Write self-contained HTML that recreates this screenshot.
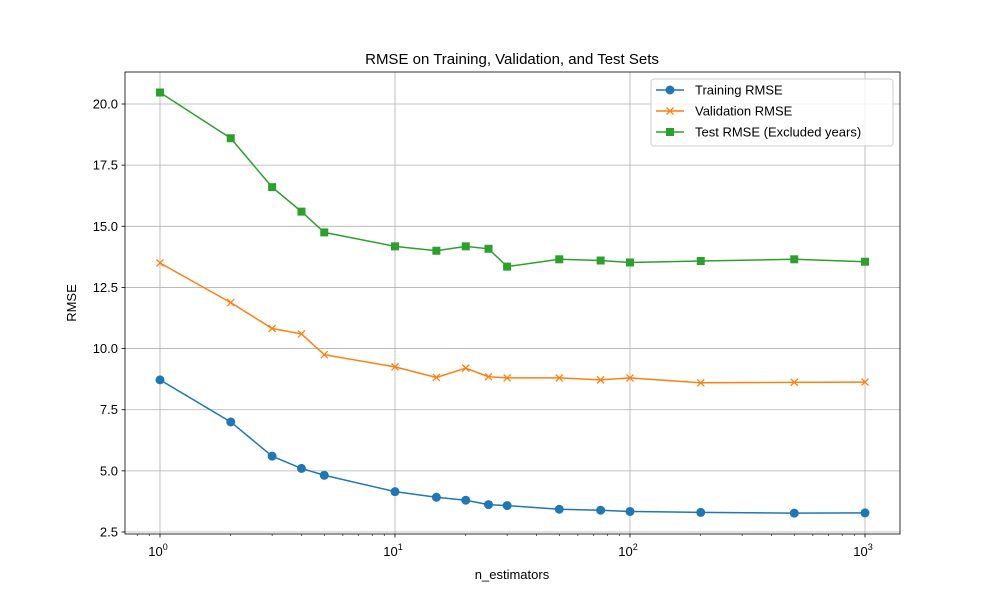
<!DOCTYPE html>
<html><head><meta charset="utf-8"><style>
body{margin:0;background:#fff}
svg{font-family:"Liberation Sans","DejaVu Sans",sans-serif}
</style></head><body>
<svg id="chart" width="1000" height="600">
<rect width="1000" height="600" fill="#fff"/>
<text x="512" y="64" text-anchor="middle" font-size="15">RMSE on Training, Validation, and Test Sets</text>
<g id="grid"></g><g id="axes"></g><g id="series"></g>
<rect x="125" y="72" width="775" height="462" fill="none" stroke="#000" stroke-width="0.8"/>
<text x="512" y="579" text-anchor="middle" font-size="13">n_estimators</text>
<text transform="translate(76,303) rotate(-90)" text-anchor="middle" font-size="13">RMSE</text>
<g id="legend">
<rect x="651" y="79" width="242" height="67" rx="3" fill="#fff" fill-opacity="0.8" stroke="#ccc"/>
</g>
</svg>
<script>
const xs=[1,2,3,4,5,10,15,20,25,30,50,75,100,200,500,1000];
const training=[8.72,7.0,5.6,5.1,4.82,4.15,3.92,3.8,3.62,3.58,3.43,3.39,3.34,3.3,3.27,3.28];
const validation=[13.5,11.88,10.82,10.6,9.75,9.25,8.82,9.2,8.85,8.8,8.8,8.72,8.8,8.6,8.62,8.63];
const test=[20.47,18.6,16.6,15.6,14.75,14.18,14.0,14.18,14.08,13.35,13.65,13.6,13.52,13.58,13.65,13.55];
const yTicks=[2.5,5.0,7.5,10.0,12.5,15.0,17.5,20.0];
const xTicks=[1,10,100,1000];
const xTickLabels=["0","1","2","3"];
const seriesNames=["Training RMSE","Validation RMSE","Test RMSE (Excluded years)"];
const NS="http://www.w3.org/2000/svg";
const X=v=>160+Math.log10(v)*235;
const Y=v=>532-(v-2.5)*24.457;
function mk(t,a,p){const e=document.createElementNS(NS,t);for(const k in a)e.setAttribute(k,a[k]);p.appendChild(e);return e;}
const grid=document.getElementById('grid'),axes=document.getElementById('axes'),ser=document.getElementById('series');
yTicks.forEach(v=>{const y=Y(v);
 const g=mk('line',{x1:125,x2:900,y1:y,y2:y,stroke:'#b0b0b0','stroke-width':0.8},grid);
 
 mk('line',{x1:121.5,x2:125,y1:y,y2:y,stroke:'#000','stroke-width':0.8},axes);
 const t=mk('text',{x:118,y:y+4.5,'text-anchor':'end','font-size':13},axes);t.textContent=v.toFixed(1);
 
});
xTicks.forEach((v,i)=>{const x=X(v);
 const g=mk('line',{x1:x,x2:x,y1:72,y2:534,stroke:'#b0b0b0','stroke-width':0.8},grid);
 
 mk('line',{x1:x,x2:x,y1:534,y2:537.5,stroke:'#000','stroke-width':0.8},axes);
 const t=mk('text',{x:x-2,y:556,'text-anchor':'middle','font-size':13},axes);
 
 t.appendChild(document.createTextNode('10'));
 const s=mk('tspan',{dy:-6,'font-size':9},t);s.textContent=xTickLabels[i];
});
for(let d=-1;d<=3;d++)for(let m=2;m<=9;m++){const v=m*Math.pow(10,d);const x=X(v);if(x<125||x>900)continue;
 mk('line',{x1:x,x2:x,y1:534,y2:536,stroke:'#000','stroke-width':0.6},axes);}
const colors=['#1f77b4','#ff7f0e','#2ca02c'];
const data=[training,validation,test];
function marker(i,x,y,p){
 if(i===0)return mk('circle',{cx:x,cy:y,r:4.5,fill:colors[0]},p);
 if(i===1)return mk('path',{d:`M${x-3.5},${y-3.5}L${x+3.5},${y+3.5}M${x-3.5},${y+3.5}L${x+3.5},${y-3.5}`,stroke:colors[1],'stroke-width':1.3},p);
 return mk('rect',{x:x-4,y:y-4,width:8,height:8,fill:colors[2]},p);
}
const names=['training','validation','test'];
data.forEach((vals,i)=>{
 const g=mk('g',{},ser);
 mk('polyline',{points:vals.map((v,j)=>X(xs[j])+','+Y(v)).join(' '),fill:'none',stroke:colors[i],'stroke-width':1.5},g);
 vals.forEach((v,j)=>{const m=marker(i,X(xs[j]),Y(v),g);
  });
});
const lg=document.getElementById('legend');
seriesNames.forEach((n,i)=>{const y=90+i*21;
 const g=mk('g',{},lg);
 mk('line',{x1:656,x2:684,y1:y,y2:y,stroke:colors[i],'stroke-width':1.5},g);
 marker(i,670,y,g);
 const t=mk('text',{x:695,y:y+4.5,'font-size':13},g);t.textContent=n;
});
</script>
</body></html>
